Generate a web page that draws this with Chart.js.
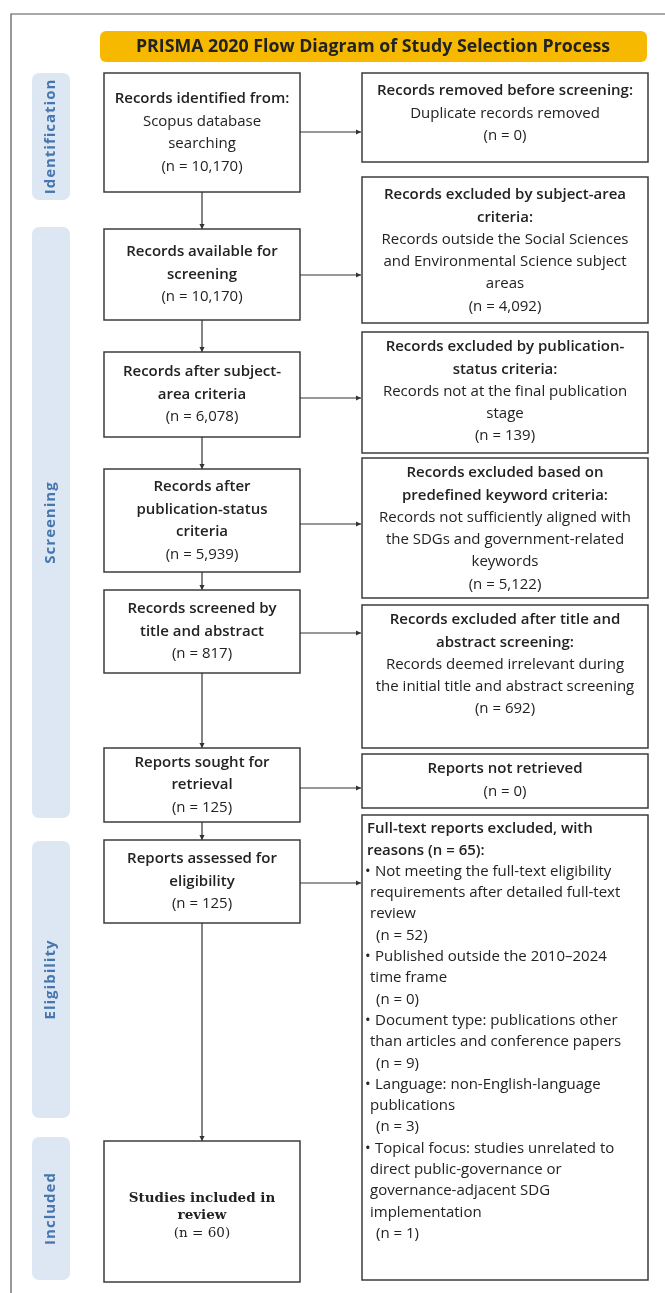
<!DOCTYPE html>
<html>
<head>
<meta charset="utf-8">
<script src="https://cdn.jsdelivr.net/npm/chart.js@4/dist/chart.umd.min.js"></script>
<style>
  html, body { margin: 0; padding: 0; background: #fff; }
  canvas { display: block; }
</style>
</head>
<body>
<canvas id="flow" width="665" height="1293"></canvas>
<script>
// ---- data ----
const chartTitle = "PRISMA 2020 Flow Diagram of Study Selection Process";
const phases = ["Identification", "Screening", "Eligibility", "Included"];

// main flow (left column)
const flowHeads = [
  ["Records identified from:"],
  ["Records available for", "screening"],
  ["Records after subject-", "area criteria"],
  ["Records after", "publication-status", "criteria"],
  ["Records screened by", "title and abstract"],
  ["Reports sought for", "retrieval"],
  ["Reports assessed for", "eligibility"],
  ["Studies included in", "review"]
];
const flowNotes = [["Scopus database", "searching"], [], [], [], [], [], [], []];
const flowCounts = [10170, 10170, 6078, 5939, 817, 125, 125, 60];

// exclusions (right column)
const exclHeads = [
  ["Records removed before screening:"],
  ["Records excluded by subject-area", "criteria:"],
  ["Records excluded by publication-", "status criteria:"],
  ["Records excluded based on", "predefined keyword criteria:"],
  ["Records excluded after title and", "abstract screening:"],
  ["Reports not retrieved"]
];
const exclNotes = [
  ["Duplicate records removed"],
  ["Records outside the Social Sciences", "and Environmental Science subject", "areas"],
  ["Records not at the final publication", "stage"],
  ["Records not sufficiently aligned with", "the SDGs and government-related", "keywords"],
  ["Records deemed irrelevant during", "the initial title and abstract screening"],
  []
];
const exclCounts = [0, 4092, 139, 5122, 692, 0];

// full-text exclusion reasons
const fullTextHead = ["Full-text reports excluded, with", "reasons"];
const fullTextCount = 65;
const reasonLines = [
  ["Not meeting the full-text eligibility", "requirements after detailed full-text", "review"],
  ["Published outside the 2010\u20132024", "time frame"],
  ["Document type: publications other", "than articles and conference papers"],
  ["Language: non-English-language", "publications"],
  ["Topical focus: studies unrelated to", "direct public-governance or", "governance-adjacent SDG", "implementation"]
];
const reasonCounts = [52, 0, 9, 3, 1];

// ---- layout (value units of the hidden axes) ----
const leftX = [104, 300];
const rightX = [362, 648];
const trunkX = 202;
const flowBoxY = [[73, 192], [229, 320], [352, 437], [469, 572], [590, 673], [748, 822], [840, 923], [1141, 1282]];
const exclBoxY = [[73, 162], [177, 323], [332, 453], [458, 598], [605, 748], [754, 808], [815, 1280]];
const arrowY = [132, 275, 398, 524, 633, 788, 883];
const phaseY = [[73, 200], [227, 818], [841, 1118], [1137, 1280]];
const phaseX = [32, 70];

const fmt = n => "(n = " + n.toLocaleString("en-US") + ")";
const SANS = "'Open Sans', Lato, sans-serif";
const SERIF = "'DejaVu Serif', 'Liberation Serif', serif";
const FS = "15px ";

const flowPlugin = {
  id: "prismaFlow",
  afterDraw(chart) {
    const ctx = chart.ctx;
    const X = v => chart.scales.x.getPixelForValue(v);
    const Y = v => chart.scales.y.getPixelForValue(v);
    ctx.save();

    // outer frame
    ctx.strokeStyle = "#555";
    ctx.lineWidth = 1.2;
    ctx.beginPath();
    ctx.moveTo(X(665), Y(14));
    ctx.lineTo(X(11), Y(14));
    ctx.lineTo(X(11), Y(1293));
    ctx.stroke();

    // title banner
    ctx.fillStyle = "#f7b900";
    ctx.beginPath();
    ctx.roundRect(X(100), Y(31), X(647) - X(100), Y(62) - Y(31), 6);
    ctx.fill();
    ctx.fillStyle = "#222";
    ctx.textAlign = "center";
    ctx.textBaseline = "middle";
    let ts = 18;
    ctx.font = "bold " + ts + "px " + SANS;
    ts = ts * 474 / ctx.measureText(chartTitle).width;
    ctx.font = "bold " + ts.toFixed(2) + "px " + SANS;
    ctx.fillText(chartTitle, X(373), Y(47));

    // phase labels
    phases.forEach((p, i) => {
      const [y0, y1] = phaseY[i];
      ctx.fillStyle = "#dce7f3";
      ctx.beginPath();
      ctx.roundRect(X(phaseX[0]), Y(y0), X(phaseX[1]) - X(phaseX[0]), Y(y1) - Y(y0), 7);
      ctx.fill();
      ctx.save();
      ctx.translate(X((phaseX[0] + phaseX[1]) / 2), Y((y0 + y1) / 2));
      ctx.rotate(-Math.PI / 2);
      ctx.fillStyle = "#4676ad";
      ctx.font = "bold 15px " + SANS;
      ctx.letterSpacing = "1px";
      ctx.fillText(p, 0, 0);
      ctx.restore();
    });

    // boxes
    const box = (x0, x1, y0, y1) => {
      ctx.strokeStyle = "#3c3c3c";
      ctx.lineWidth = 1.5;
      ctx.strokeRect(X(x0), Y(y0), X(x1) - X(x0), Y(y1) - Y(y0));
    };
    const arrow = (xa, ya, xb, yb) => {
      ctx.strokeStyle = "#333";
      ctx.fillStyle = "#333";
      ctx.lineWidth = 1.2;
      ctx.beginPath();
      ctx.moveTo(X(xa), Y(ya));
      ctx.lineTo(X(xb), Y(yb));
      ctx.stroke();
      const ang = Math.atan2(Y(yb) - Y(ya), X(xb) - X(xa));
      ctx.save();
      ctx.translate(X(xb), Y(yb));
      ctx.rotate(ang);
      ctx.beginPath();
      ctx.moveTo(0, 0);
      ctx.lineTo(-5, -2.6);
      ctx.lineTo(-5, 2.6);
      ctx.closePath();
      ctx.fill();
      ctx.restore();
    };

    ctx.fillStyle = "#222";
    ctx.textAlign = "center";
    ctx.textBaseline = "middle";

    // left column
    flowHeads.forEach((heads, i) => {
      const [y0, y1] = flowBoxY[i];
      box(leftX[0], leftX[1], y0, y1);
      const last = i === flowHeads.length - 1;
      const lines = heads.map(t => [t, true])
        .concat(flowNotes[i].map(t => [t, false]))
        .concat([[fmt(flowCounts[i]), false]]);
      const lh = last ? 17.5 : 22.5;
      let y = (y0 + y1) / 2 - (lines.length - 1) * lh / 2;
      if (last) y += 4;
      const cx = (leftX[0] + leftX[1]) / 2;
      lines.forEach(([t, b]) => {
        ctx.fillStyle = "#222";
        ctx.font = (b ? (last ? "bold " : "600 ") : "") + (last ? "13.5px " + SERIF : FS + SANS);
        ctx.fillText(t, X(cx), Y(y));
        y += lh;
      });
      if (i < flowHeads.length - 1) arrow(trunkX, y1, trunkX, flowBoxY[i + 1][0]);
    });

    // right column
    exclHeads.forEach((heads, i) => {
      const [y0, y1] = exclBoxY[i];
      box(rightX[0], rightX[1], y0, y1);
      const lines = heads.map(t => [t, true])
        .concat(exclNotes[i].map(t => [t, false]))
        .concat([[fmt(exclCounts[i]), false]]);
      let y = y0 + (i < 2 ? 18 : 15);
      const cx = (rightX[0] + rightX[1]) / 2;
      lines.forEach(([t, b]) => {
        ctx.fillStyle = "#222";
        ctx.font = (b ? "600 " : "") + FS + SANS;
        ctx.fillText(t, X(cx), Y(y));
        y += 22.3;
      });
    });

    // full-text exclusions
    const [fy0, fy1] = exclBoxY[6];
    box(rightX[0], rightX[1], fy0, fy1);
    ctx.textAlign = "left";
    let y = fy0 + 14;
    const lh = 21.3;
    ctx.font = "600 " + FS + SANS;
    ctx.fillText(fullTextHead[0], X(367), Y(y)); y += lh;
    ctx.fillText(fullTextHead[1] + " " + fmt(fullTextCount) + ":", X(367), Y(y)); y += lh;
    ctx.font = FS + SANS;
    reasonLines.forEach((ls, i) => {
      ls.forEach((t, j) => {
        if (j === 0) {
          ctx.fillText("\u2022", X(365), Y(y));
          ctx.fillText(t, X(375), Y(y));
        } else {
          ctx.fillText(t, X(370), Y(y));
        }
        y += lh;
      });
      ctx.fillText(fmt(reasonCounts[i]), X(376), Y(y));
      y += lh;
    });

    // horizontal arrows to exclusions
    arrowY.forEach(ay => arrow(leftX[1], ay, rightX[0] - 1, ay));

    ctx.restore();
  }
};

new Chart(document.getElementById("flow"), {
  type: "scatter",
  data: { datasets: [{ data: [], pointRadius: 0 }] },
  options: {
    responsive: false,
    animation: false,
    layout: { padding: 0 },
    plugins: { legend: { display: false }, tooltip: { enabled: false } },
    scales: {
      x: { type: "linear", min: 0, max: 665, display: false },
      y: { type: "linear", min: 0, max: 1293, reverse: true, display: false }
    }
  },
  plugins: [flowPlugin]
});
</script>
</body>
</html>
